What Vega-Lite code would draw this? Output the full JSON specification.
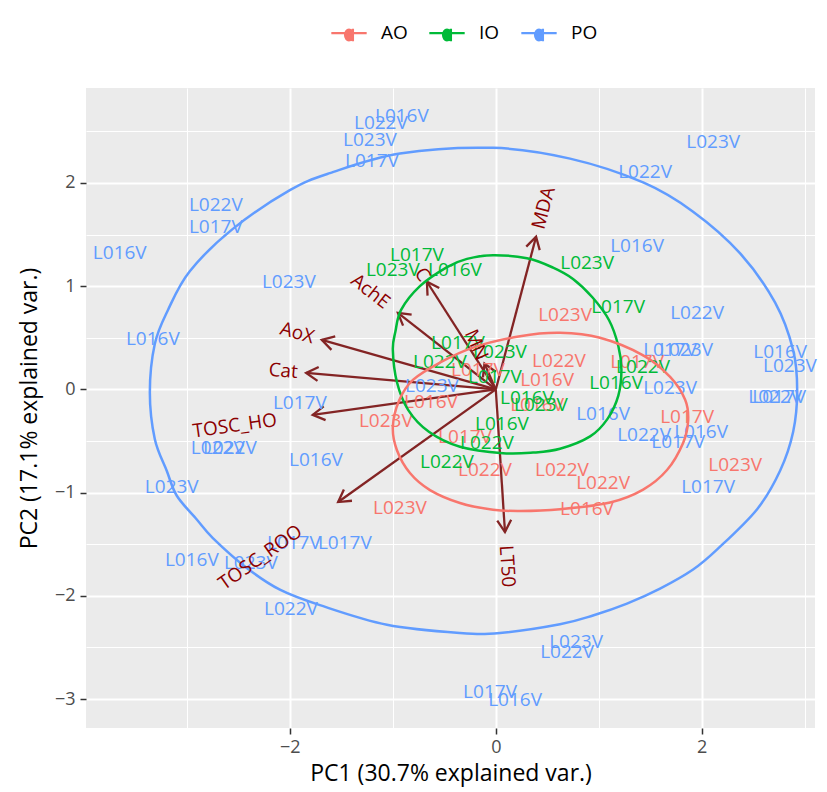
{
  "$schema": "https://vega.github.io/schema/vega-lite/v6.json",
  "width": 729,
  "height": 640,
  "autosize": "none",
  "padding": {"left": 86, "top": 88, "right": 12, "bottom": 64},
  "background": "white",
  "config": {
    "view": {"fill": "#EBEBEB", "stroke": null},
    "font": "Open Sans",
    "axis": {
      "domain": false,
      "gridColor": "white",
      "tickColor": "#333333",
      "tickSize": 6,
      "tickWidth": 1.5,
      "labelColor": "#4D4D4D",
      "labelFontSize": 18,
      "labelFont": "Open Sans",
      "titleFont": "Open Sans",
      "titleFontSize": 23,
      "titleFontWeight": "normal",
      "titleColor": "black",
      "labelOverlap": false
    }
  },
  "datasets": {
    "scores": [
      {"group": "PO", "label": "L016V", "PC1": -0.912, "PC2": 2.653},
      {"group": "PO", "label": "L022V", "PC1": -1.116, "PC2": 2.585},
      {"group": "PO", "label": "L023V", "PC1": -1.222, "PC2": 2.415},
      {"group": "PO", "label": "L017V", "PC1": -1.203, "PC2": 2.212},
      {"group": "PO", "label": "L023V", "PC1": 2.111, "PC2": 2.4},
      {"group": "PO", "label": "L022V", "PC1": 1.45, "PC2": 2.109},
      {"group": "PO", "label": "L016V", "PC1": 1.372, "PC2": 1.392},
      {"group": "PO", "label": "L022V", "PC1": -2.719, "PC2": 1.79},
      {"group": "PO", "label": "L017V", "PC1": -2.719, "PC2": 1.576},
      {"group": "PO", "label": "L016V", "PC1": -3.652, "PC2": 1.324},
      {"group": "PO", "label": "L023V", "PC1": -2.01, "PC2": 1.043},
      {"group": "PO", "label": "L016V", "PC1": -3.331, "PC2": 0.49},
      {"group": "PO", "label": "L017V", "PC1": -1.903, "PC2": -0.131},
      {"group": "PO", "label": "L022V", "PC1": -2.7, "PC2": -0.568},
      {"group": "PO", "label": "L022V", "PC1": -2.583, "PC2": -0.568},
      {"group": "PO", "label": "L016V", "PC1": -1.747, "PC2": -0.685},
      {"group": "PO", "label": "L023V", "PC1": -3.147, "PC2": -0.946},
      {"group": "PO", "label": "L016V", "PC1": -2.952, "PC2": -1.654},
      {"group": "PO", "label": "L023V", "PC1": -2.379, "PC2": -1.683},
      {"group": "PO", "label": "L017V", "PC1": -1.961, "PC2": -1.489},
      {"group": "PO", "label": "L017V", "PC1": -1.466, "PC2": -1.489},
      {"group": "PO", "label": "L022V", "PC1": -1.99, "PC2": -2.129},
      {"group": "PO", "label": "L017V", "PC1": -0.056, "PC2": -2.934},
      {"group": "PO", "label": "L016V", "PC1": 0.187, "PC2": -3.012},
      {"group": "PO", "label": "L023V", "PC1": 0.78, "PC2": -2.449},
      {"group": "PO", "label": "L022V", "PC1": 0.692, "PC2": -2.546},
      {"group": "PO", "label": "L022V", "PC1": 1.955, "PC2": 0.742},
      {"group": "PO", "label": "L017V", "PC1": 1.693, "PC2": 0.383},
      {"group": "PO", "label": "L023V", "PC1": 1.848, "PC2": 0.383},
      {"group": "PO", "label": "L023V", "PC1": 1.693, "PC2": 0.015},
      {"group": "PO", "label": "L016V", "PC1": 1.042, "PC2": -0.237},
      {"group": "PO", "label": "L022V", "PC1": 1.44, "PC2": -0.441},
      {"group": "PO", "label": "L016V", "PC1": 1.994, "PC2": -0.412},
      {"group": "PO", "label": "L017V", "PC1": 1.771, "PC2": -0.509},
      {"group": "PO", "label": "L017V", "PC1": 2.062, "PC2": -0.946},
      {"group": "PO", "label": "L016V", "PC1": 2.762, "PC2": 0.364},
      {"group": "PO", "label": "L023V", "PC1": 2.857, "PC2": 0.228},
      {"group": "PO", "label": "L022V", "PC1": 2.713, "PC2": -0.073},
      {"group": "PO", "label": "L017V", "PC1": 2.752, "PC2": -0.073},
      {"group": "PO", "label": "L023V", "PC1": -0.62, "PC2": 0.034},
      {"group": "AO", "label": "L023V", "PC1": 0.673, "PC2": 0.723},
      {"group": "AO", "label": "L022V", "PC1": 0.614, "PC2": 0.276},
      {"group": "AO", "label": "L016V", "PC1": 0.498, "PC2": 0.092},
      {"group": "AO", "label": "L017V", "PC1": -0.173, "PC2": 0.189},
      {"group": "AO", "label": "L016V", "PC1": -0.63, "PC2": -0.121},
      {"group": "AO", "label": "L023V", "PC1": -1.068, "PC2": -0.306},
      {"group": "AO", "label": "L017V", "PC1": -0.299, "PC2": -0.461},
      {"group": "AO", "label": "L022V", "PC1": -0.105, "PC2": -0.781},
      {"group": "AO", "label": "L022V", "PC1": 0.643, "PC2": -0.781},
      {"group": "AO", "label": "L023V", "PC1": -0.931, "PC2": -1.149},
      {"group": "AO", "label": "L016V", "PC1": 0.886, "PC2": -1.159},
      {"group": "AO", "label": "L022V", "PC1": 1.042, "PC2": -0.907},
      {"group": "AO", "label": "L017V", "PC1": 1.858, "PC2": -0.267},
      {"group": "AO", "label": "L023V", "PC1": 2.325, "PC2": -0.733},
      {"group": "AO", "label": "L016V", "PC1": 0.401, "PC2": -0.15},
      {"group": "AO", "label": "L017V", "PC1": 1.372, "PC2": 0.267},
      {"group": "IO", "label": "L017V", "PC1": -0.766, "PC2": 1.305},
      {"group": "IO", "label": "L023V", "PC1": -1.0, "PC2": 1.159},
      {"group": "IO", "label": "L016V", "PC1": -0.397, "PC2": 1.159},
      {"group": "IO", "label": "L023V", "PC1": 0.887, "PC2": 1.227},
      {"group": "IO", "label": "L017V", "PC1": 1.188, "PC2": 0.8},
      {"group": "IO", "label": "L017V", "PC1": -0.367, "PC2": 0.451},
      {"group": "IO", "label": "L023V", "PC1": 0.041, "PC2": 0.364},
      {"group": "IO", "label": "L022V", "PC1": -0.542, "PC2": 0.267},
      {"group": "IO", "label": "L017V", "PC1": -0.008, "PC2": 0.121},
      {"group": "IO", "label": "L016V", "PC1": 0.303, "PC2": -0.082},
      {"group": "IO", "label": "L023V", "PC1": 0.439, "PC2": -0.15},
      {"group": "IO", "label": "L016V", "PC1": 0.06, "PC2": -0.335},
      {"group": "IO", "label": "L022V", "PC1": -0.086, "PC2": -0.519},
      {"group": "IO", "label": "L022V", "PC1": -0.474, "PC2": -0.703},
      {"group": "IO", "label": "L022V", "PC1": 1.43, "PC2": 0.218},
      {"group": "IO", "label": "L016V", "PC1": 1.168, "PC2": 0.063}
    ],
    "loadings": [
      {"name": "MDA", "PC1": 0.391, "PC2": 1.479},
      {"name": "C", "PC1": -0.669, "PC2": 1.043},
      {"name": "AchE", "PC1": -0.951, "PC2": 0.742},
      {"name": "MN", "PC1": -0.11, "PC2": 0.25},
      {"name": "AoX", "PC1": -1.69, "PC2": 0.48},
      {"name": "Cat", "PC1": -1.842, "PC2": 0.16},
      {"name": "TOSC_HO", "PC1": -1.778, "PC2": -0.247},
      {"name": "TOSC_ROO", "PC1": -1.531, "PC2": -1.091},
      {"name": "LT50", "PC1": 0.089, "PC2": -1.382}
    ],
    "ellipses": [
      {"group": "PO", "i": 0, "PC1": -3.36, "PC2": -0.03},
      {"group": "PO", "i": 1, "PC1": -3.312, "PC2": 0.44},
      {"group": "PO", "i": 2, "PC1": -3.186, "PC2": 0.765},
      {"group": "PO", "i": 3, "PC1": -2.972, "PC2": 1.145},
      {"group": "PO", "i": 4, "PC1": -2.554, "PC2": 1.555},
      {"group": "PO", "i": 5, "PC1": -2.0, "PC2": 1.93},
      {"group": "PO", "i": 6, "PC1": -1.611, "PC2": 2.095},
      {"group": "PO", "i": 7, "PC1": -0.931, "PC2": 2.285},
      {"group": "PO", "i": 8, "PC1": -0.027, "PC2": 2.34},
      {"group": "PO", "i": 9, "PC1": 0.721, "PC2": 2.236},
      {"group": "PO", "i": 10, "PC1": 1.431, "PC2": 2.005},
      {"group": "PO", "i": 11, "PC1": 1.916, "PC2": 1.722},
      {"group": "PO", "i": 12, "PC1": 2.373, "PC2": 1.318},
      {"group": "PO", "i": 13, "PC1": 2.713, "PC2": 0.84},
      {"group": "PO", "i": 14, "PC1": 2.888, "PC2": 0.38},
      {"group": "PO", "i": 15, "PC1": 2.927, "PC2": -0.01},
      {"group": "PO", "i": 16, "PC1": 2.888, "PC2": -0.41},
      {"group": "PO", "i": 17, "PC1": 2.762, "PC2": -0.785},
      {"group": "PO", "i": 18, "PC1": 2.538, "PC2": -1.16},
      {"group": "PO", "i": 19, "PC1": 2.15, "PC2": -1.55},
      {"group": "PO", "i": 20, "PC1": 1.916, "PC2": -1.745},
      {"group": "PO", "i": 21, "PC1": 1.595, "PC2": -1.93},
      {"group": "PO", "i": 22, "PC1": 1.274, "PC2": -2.075},
      {"group": "PO", "i": 23, "PC1": 0.944, "PC2": -2.19},
      {"group": "PO", "i": 24, "PC1": 0.623, "PC2": -2.275},
      {"group": "PO", "i": 25, "PC1": 0.041, "PC2": -2.36},
      {"group": "PO", "i": 26, "PC1": -0.348, "PC2": -2.36},
      {"group": "PO", "i": 27, "PC1": -1.057, "PC2": -2.28},
      {"group": "PO", "i": 28, "PC1": -1.708, "PC2": -2.09},
      {"group": "PO", "i": 29, "PC1": -2.097, "PC2": -1.94},
      {"group": "PO", "i": 30, "PC1": -2.418, "PC2": -1.73},
      {"group": "PO", "i": 31, "PC1": -2.748, "PC2": -1.44},
      {"group": "PO", "i": 32, "PC1": -2.904, "PC2": -1.26},
      {"group": "PO", "i": 33, "PC1": -3.098, "PC2": -1.03},
      {"group": "PO", "i": 34, "PC1": -3.195, "PC2": -0.79},
      {"group": "PO", "i": 35, "PC1": -3.312, "PC2": -0.48},
      {"group": "IO", "i": 0, "PC1": -1.0, "PC2": 0.383},
      {"group": "IO", "i": 1, "PC1": -0.975, "PC2": 0.56},
      {"group": "IO", "i": 2, "PC1": -0.92, "PC2": 0.77},
      {"group": "IO", "i": 3, "PC1": -0.737, "PC2": 1.0},
      {"group": "IO", "i": 4, "PC1": -0.474, "PC2": 1.185},
      {"group": "IO", "i": 5, "PC1": -0.28, "PC2": 1.265},
      {"group": "IO", "i": 6, "PC1": -0.027, "PC2": 1.3},
      {"group": "IO", "i": 7, "PC1": 0.303, "PC2": 1.27},
      {"group": "IO", "i": 8, "PC1": 0.556, "PC2": 1.18},
      {"group": "IO", "i": 9, "PC1": 0.75, "PC2": 1.07},
      {"group": "IO", "i": 10, "PC1": 0.94, "PC2": 0.89},
      {"group": "IO", "i": 11, "PC1": 1.1, "PC2": 0.67},
      {"group": "IO", "i": 12, "PC1": 1.19, "PC2": 0.42},
      {"group": "IO", "i": 13, "PC1": 1.22, "PC2": 0.19},
      {"group": "IO", "i": 14, "PC1": 1.19, "PC2": -0.06},
      {"group": "IO", "i": 15, "PC1": 1.085, "PC2": -0.285},
      {"group": "IO", "i": 16, "PC1": 0.916, "PC2": -0.455},
      {"group": "IO", "i": 17, "PC1": 0.624, "PC2": -0.575},
      {"group": "IO", "i": 18, "PC1": 0.362, "PC2": -0.612},
      {"group": "IO", "i": 19, "PC1": 0.07, "PC2": -0.618},
      {"group": "IO", "i": 20, "PC1": -0.348, "PC2": -0.555},
      {"group": "IO", "i": 21, "PC1": -0.65, "PC2": -0.41},
      {"group": "IO", "i": 22, "PC1": -0.85, "PC2": -0.2},
      {"group": "IO", "i": 23, "PC1": -0.96, "PC2": 0.07},
      {"group": "AO", "i": 0, "PC1": -1.0, "PC2": -0.364},
      {"group": "AO", "i": 1, "PC1": -0.94, "PC2": -0.11},
      {"group": "AO", "i": 2, "PC1": -0.805, "PC2": 0.092},
      {"group": "AO", "i": 3, "PC1": -0.542, "PC2": 0.26},
      {"group": "AO", "i": 4, "PC1": -0.222, "PC2": 0.405},
      {"group": "AO", "i": 5, "PC1": 0.235, "PC2": 0.515},
      {"group": "AO", "i": 6, "PC1": 0.624, "PC2": 0.548},
      {"group": "AO", "i": 7, "PC1": 1.012, "PC2": 0.5},
      {"group": "AO", "i": 8, "PC1": 1.431, "PC2": 0.33},
      {"group": "AO", "i": 9, "PC1": 1.693, "PC2": 0.121},
      {"group": "AO", "i": 10, "PC1": 1.839, "PC2": -0.1},
      {"group": "AO", "i": 11, "PC1": 1.868, "PC2": -0.3},
      {"group": "AO", "i": 12, "PC1": 1.819, "PC2": -0.519},
      {"group": "AO", "i": 13, "PC1": 1.663, "PC2": -0.781},
      {"group": "AO", "i": 14, "PC1": 1.431, "PC2": -0.97},
      {"group": "AO", "i": 15, "PC1": 1.11, "PC2": -1.095},
      {"group": "AO", "i": 16, "PC1": 0.624, "PC2": -1.16},
      {"group": "AO", "i": 17, "PC1": 0.235, "PC2": -1.178},
      {"group": "AO", "i": 18, "PC1": -0.027, "PC2": -1.165},
      {"group": "AO", "i": 19, "PC1": -0.348, "PC2": -1.1},
      {"group": "AO", "i": 20, "PC1": -0.639, "PC2": -0.975},
      {"group": "AO", "i": 21, "PC1": -0.834, "PC2": -0.81},
      {"group": "AO", "i": 22, "PC1": -0.961, "PC2": -0.587}
    ]
  },
  "encoding": {
    "x": {
      "field": "PC1",
      "type": "quantitative",
      "title": "PC1 (30.7% explained var.)",
      "scale": {"domain": [-3.98, 3.1], "nice": false, "zero": false},
      "axis": {
        "values": [-3, -2, -1, 0, 1, 2, 3],
        "format": "~g",
        "labelExpr": "datum.value % 2 === 0 ? datum.label : ''",
        "gridWidth": {"condition": {"test": "datum.value % 2 !== 0", "value": 1}, "value": 2},
        "tickOpacity": {"condition": {"test": "datum.value % 2 !== 0", "value": 0}, "value": 1},
        "labelPadding": 4,
        "titlePadding": 6
      }
    },
    "y": {
      "field": "PC2",
      "type": "quantitative",
      "title": "PC2 (17.1% explained var.)",
      "scale": {"domain": [-3.28, 2.92], "nice": false, "zero": false},
      "axis": {
        "values": [-3, -2.5, -2, -1.5, -1, -0.5, 0, 0.5, 1, 1.5, 2, 2.5],
        "format": "~g",
        "labelExpr": "datum.value % 1 === 0 ? datum.label : ''",
        "gridWidth": {"condition": {"test": "datum.value % 1 !== 0", "value": 1}, "value": 2},
        "tickOpacity": {"condition": {"test": "datum.value % 1 !== 0", "value": 0}, "value": 1},
        "labelPadding": 5,
        "titlePadding": 13
      }
    }
  },
  "layer": [
    {
      "data": {"name": "loadings"},
      "mark": {"type": "rule", "color": "#832424", "strokeWidth": 2.3},
      "encoding": {"x2": {"datum": 0}, "y2": {"datum": 0}}
    },
    {
      "data": {"name": "loadings"},
      "transform": [{"calculate": "atan2(datum.PC1, datum.PC2) * 180 / PI", "as": "headAngle"}],
      "mark": {"type": "point", "shape": "M-0.58,1L0,0L0.58,1", "filled": false, "stroke": "#832424", "strokeWidth": 2.3, "size": 576, "opacity": 1},
      "encoding": {"angle": {"field": "headAngle", "type": "quantitative", "scale": null}}
    },
    {
      "data": {"name": "scores"},
      "mark": {"type": "text", "fontSize": 19, "font": "Open Sans", "baseline": "middle", "align": "center"},
      "encoding": {
        "text": {"field": "label"},
        "color": {
          "field": "group",
          "type": "nominal",
          "scale": {"domain": ["AO", "IO", "PO"], "range": ["#F8766D", "#00BA38", "#619CFF"]},
          "legend": {
            "title": null,
            "orient": "none",
            "direction": "horizontal",
            "legendX": 244,
            "legendY": -74,
            "symbolType": "M-1,0H1M0.22,-0.25V0.45M0.22,0.1A0.22,0.3 0 1 1 -0.22,0.1A0.22,0.3 0 1 1 0.22,0.1",
            "symbolSize": 1250,
            "symbolStrokeWidth": 2.3,
            "labelFontSize": 19,
            "labelFont": "Open Sans",
            "labelColor": "black",
            "labelOffset": 13,
            "columnPadding": 16,
            "encode": {"symbols": {"update": {"fill": {"value": "transparent"}, "stroke": {"scale": "color", "field": "value"}, "opacity": {"value": 1}}}}
          }
        }
      }
    },
    {
      "data": {"name": "ellipses"},
      "mark": {"type": "line", "interpolate": "cardinal-closed", "strokeWidth": 2.5},
      "encoding": {
        "color": {"field": "group", "type": "nominal"},
        "order": {"field": "i", "type": "quantitative"}
      }
    },
    {
      "data": {"name": "loadings"},
      "transform": [{"calculate": "-atan(datum.PC2 / datum.PC1) * 180 / PI", "as": "textAngle"}],
      "mark": {
        "type": "text",
        "fontSize": 19,
        "font": "Open Sans",
        "color": "#8B0000",
        "baseline": "middle",
        "align": {"expr": "datum.PC1 > 0 ? 'left' : 'right'"},
        "dx": {"expr": "(datum.PC1 > 0 ? 1 : -1) * (2 + 0.7 * length(datum.name) * length(datum.name))"}
      },
      "encoding": {
        "text": {"field": "name"},
        "angle": {"field": "textAngle", "type": "quantitative", "scale": null}
      }
    }
  ]
}
